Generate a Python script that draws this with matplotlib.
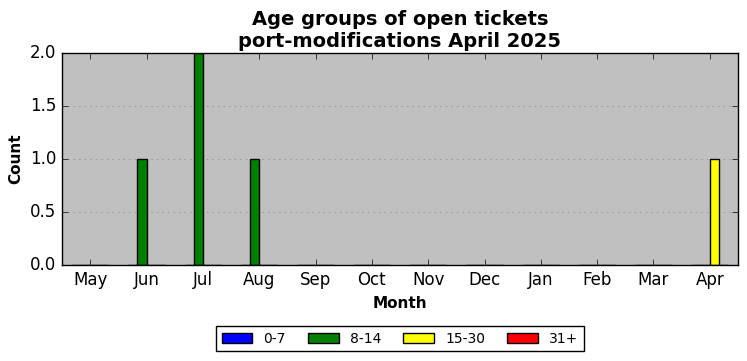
import numpy as np
from matplotlib import pyplot as plt

months = ["May", "Jun", "Jul", "Aug", "Sep", "Oct", "Nov", "Dec", "Jan", "Feb", "Mar", "Apr"]
age_groups = ["0-7", "8-14", "15-30", "31+"]
colors = ["blue", "green", "yellow", "red"]

counts_0_7 = [0, 0, 0, 0, 0, 0, 0, 0, 0, 0, 0, 0]
counts_8_14 = [0, 1, 2, 1, 0, 0, 0, 0, 0, 0, 0, 0]
counts_15_30 = [0, 0, 0, 0, 0, 0, 0, 0, 0, 0, 0, 1]
counts_31 = [0, 0, 0, 0, 0, 0, 0, 0, 0, 0, 0, 0]

plt.style.use('classic')

fig = plt.figure(figsize=(7.47, 3.61), dpi=100, facecolor='white')
ax = fig.add_axes([62 / 747, 1 - 265 / 361, 676 / 747, 212 / 361])
ax.set_facecolor('silver')

x = np.arange(len(months))
width = 0.16
series = [counts_0_7, counts_8_14, counts_15_30, counts_31]
for i, (vals, lab, col) in enumerate(zip(series, age_groups, colors)):
    ax.bar(x + (i - 1.5) * width, vals, width, color=col, edgecolor='black', label=lab, align='center')

ax.set_xlim(-0.5, 11.5)
ax.set_ylim(0, 2.0)
ax.set_xticks(x)
ax.set_xticklabels(months)
ax.set_yticks([0.0, 0.5, 1.0, 1.5, 2.0])
ax.tick_params(labelsize=12)
ax.yaxis.grid(True, linestyle=':', color='gray')
ax.set_axisbelow(True)

ax.set_xlabel('Month', fontweight='bold', fontsize=11)
ax.set_ylabel('Count', fontweight='bold', fontsize=11)
ax.set_title('Age groups of open tickets\nport-modifications April 2025', fontweight='bold', fontsize=14, y=0.995)

ax.legend(loc='upper center', bbox_to_anchor=(0.5, -0.255), ncol=4, fontsize=10, frameon=True,
          handlelength=2.2, columnspacing=1.6)

fig.savefig('out.png', dpi=100, facecolor='white')
